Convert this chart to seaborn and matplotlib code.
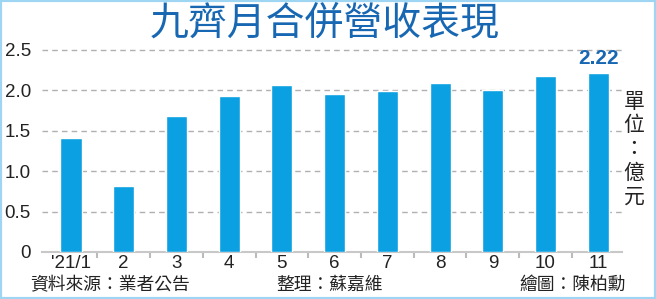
import matplotlib
matplotlib.use("Agg")
import matplotlib.pyplot as plt
import seaborn as sns
import pandas as pd
from matplotlib.patches import Rectangle

months = ["'21/1", "2", "3", "4", "5", "6", "7", "8", "9", "10", "11"]
revenue = [1.41, 0.82, 1.68, 1.93, 2.07, 1.96, 1.99, 2.09, 2.00, 2.18, 2.22]
yticks = [0, 0.5, 1.0, 1.5, 2.0, 2.5]
ytick_labels = ["0", "0.5", "1.0", "1.5", "2.0", "2.5"]
title = "九齊月合併營收表現"
unit = "單位：億元"
source = "資料來源：業者公告"
editor = "整理：蘇嘉維"
artist = "繪圖：陳柏勳"

sns.set_style("white")
plt.rcParams['font.family'] = ['Liberation Sans', 'Noto Sans CJK TC', 'DejaVu Sans']

W, H = 656, 299
fig = plt.figure(figsize=(W / 100, H / 100), dpi=100)
fig.patch.set_facecolor("white")

ax = fig.add_axes([42 / W, (H - 252) / H, (622 - 42) / W, 202 / H])
df = pd.DataFrame({"month": months, "revenue": revenue})
bar_color = "#0ba0e1"
sns.barplot(data=df, x="month", y="revenue", color=bar_color, width=0.4,
            saturation=1, ax=ax, zorder=3)

ax.set_xlim(-0.55, 10.45)
ax.set_ylim(0, 2.5)
ax.set_yticks(yticks)
ax.set_yticklabels(ytick_labels)
ax.set_xlabel("")
ax.set_ylabel("")
ax.tick_params(axis="y", length=0, labelsize=13.5, pad=8, colors="#222222")
ax.tick_params(axis="x", which="major", length=0, labelsize=13.5, pad=2, colors="#222222")

# small separators between month categories
for i in range(len(months) - 1):
    ax.plot([i + 0.5, i + 0.5], [0, -0.07], color="#bbbbbb", lw=1.5,
            clip_on=False, zorder=2, solid_capstyle="butt")

for y in yticks[1:]:
    ax.axhline(y, color="#b0b0b0", lw=1, ls=(0, (4, 3)), zorder=1, clip_on=False)

for s in ["top", "right", "left"]:
    ax.spines[s].set_visible(False)
ax.spines["bottom"].set_color("#c8c8c8")
ax.spines["bottom"].set_linewidth(1.5)

title_blue = "#1767b2"
ax.annotate(f"{revenue[-1]:.2f}", xy=(len(months) - 1, revenue[-1]),
            xytext=(0, 3), textcoords="offset points", ha="center", va="bottom",
            fontsize=15, fontweight="bold", color=title_blue)

fig.text(325 / W, 1 - 24 / H, title, ha="center", va="center", fontsize=28,
         color=title_blue, family=['Noto Sans CJK TC'], fontweight="medium")

fig.text(634 / W, 1 - 149 / H, "\n".join(unit), ha="center", va="center",
         fontsize=15, linespacing=1.1, color="#222222", family=['Noto Sans CJK TC'])

fig.text(30 / W, 1 - 285 / H, source, ha="left", va="center", fontsize=12.8,
         color="#222222", family=['Noto Sans CJK TC'])
fig.text(330 / W, 1 - 285 / H, editor, ha="center", va="center", fontsize=12.8,
         color="#222222", family=['Noto Sans CJK TC'])
fig.text(626 / W, 1 - 285 / H, artist, ha="right", va="center", fontsize=12.8,
         color="#222222", family=['Noto Sans CJK TC'])

fig.patches.append(Rectangle((0, 0), 1, 1, transform=fig.transFigure, fill=False,
                             edgecolor="#9dd5f2", lw=3, zorder=10))

fig.savefig("out.png", dpi=100)
